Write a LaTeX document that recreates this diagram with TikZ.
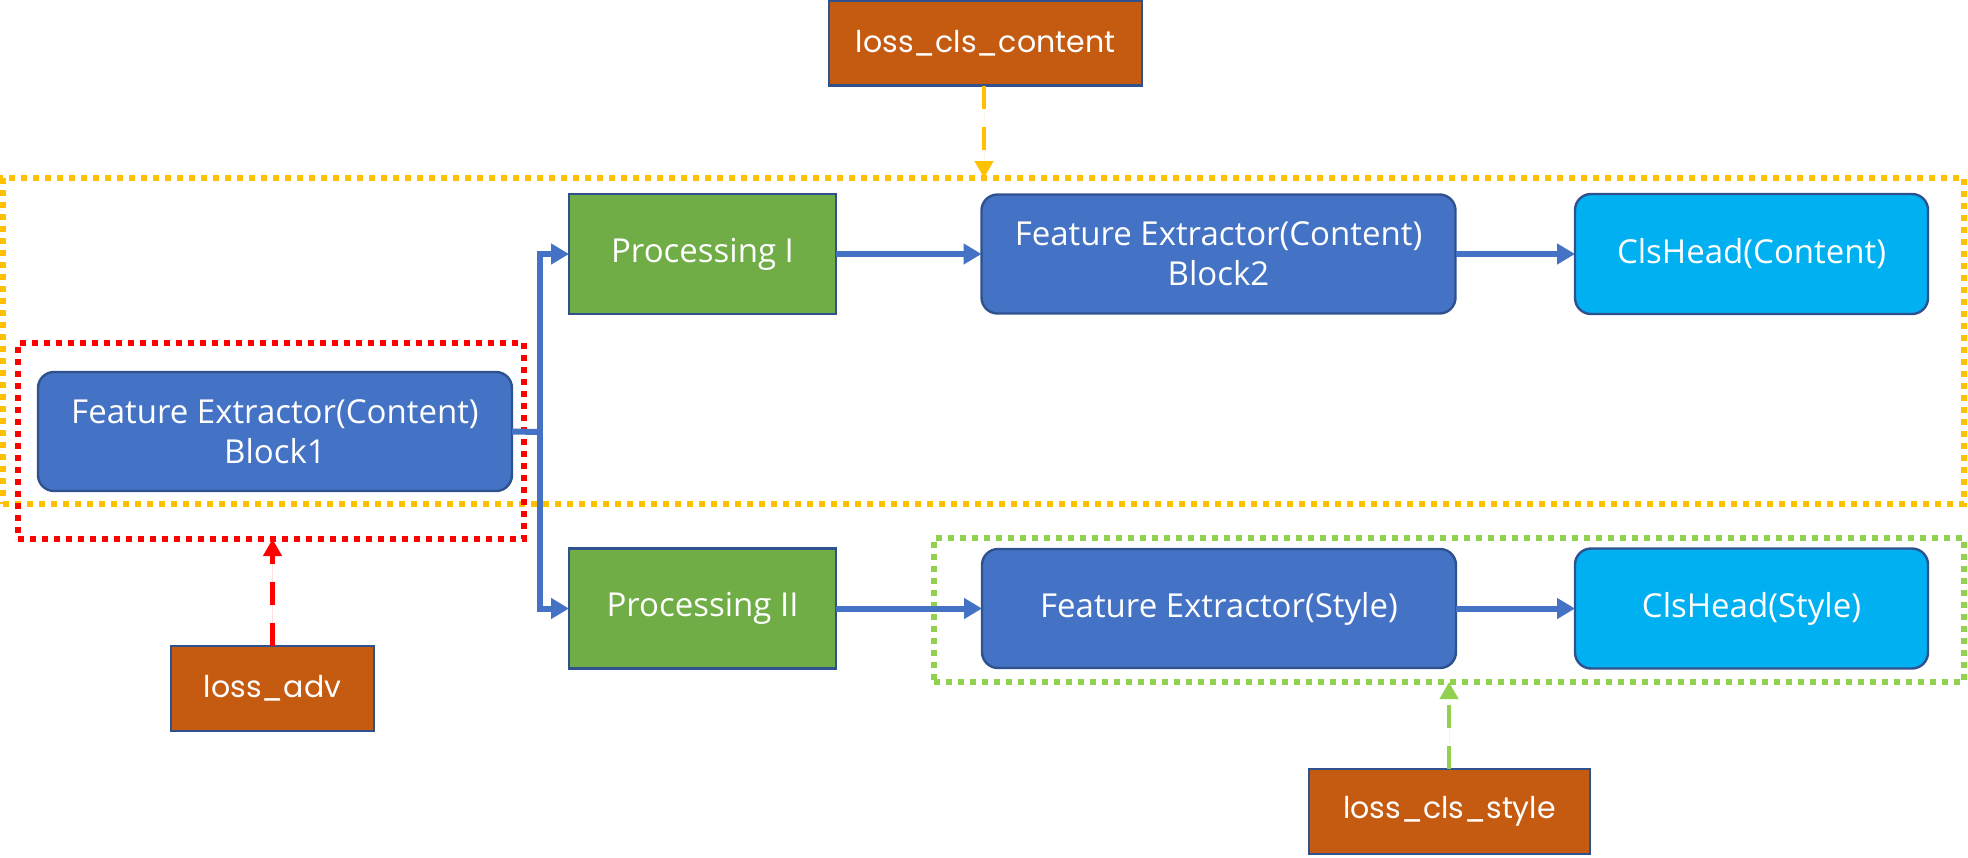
\documentclass[tikz,border=0pt]{standalone}
\usepackage{fontspec}
\setmainfont{Open Sans}
\newfontfamily\lossfont{Poppins}
\usetikzlibrary{arrows.meta,positioning}
\definecolor{procgreen}{HTML}{70AD47}
\definecolor{feblue}{HTML}{4472C4}
\definecolor{clscyan}{HTML}{00B0F0}
\definecolor{lossorange}{HTML}{C55A11}
\definecolor{edgeblue}{HTML}{2F528F}
\definecolor{dotyellow}{HTML}{FFC000}
\definecolor{dotred}{HTML}{FF0000}
\definecolor{dotgreen}{HTML}{92D050}
\tikzset{
  every node/.style={inner sep=0pt, outer sep=0pt},
  block/.style={draw=edgeblue, line width=1.2pt, text=white, align=center,
    font=\fontsize{16.5}{20}\selectfont},
  febox/.style={block, fill=feblue, rounded corners=8pt, minimum width=237pt, minimum height=59.5pt},
  procbox/.style={block, fill=procgreen, minimum width=133.5pt, minimum height=60pt},
  clsbox/.style={block, fill=clscyan, rounded corners=8pt, minimum width=176.5pt, minimum height=60pt},
  lossbox/.style={draw=edgeblue, line width=1.2pt, fill=lossorange, text=white,
    font=\lossfont\fontsize{15}{18}\selectfont, minimum height=42.5pt},
  dotframe/.style={line width=2.6pt, dash pattern=on 2.8pt off 3.2pt},
  flow/.style={draw=feblue, line width=3pt, -{Triangle[length=9pt,width=10pt]}},
  lossarrow/.style={line width=2.2pt, dash pattern=on 11.5pt off 9pt, -{Triangle[length=8.5pt,width=9pt]}},
}
\begin{document}
\begin{tikzpicture}[x=0.5pt,y=-0.5pt]
\useasboundingbox (0,0) rectangle (1968,857);
% frames
\node[dotframe, draw=dotyellow, minimum width=980.5pt, minimum height=163pt] (yframe) at (983.5,341) {};
\node[dotframe, draw=dotred, minimum width=253pt, minimum height=98pt] (rframe) at (271,441) {};
\node[dotframe, draw=dotgreen, minimum width=515pt, minimum height=72pt] (gframe) at (1449,610) {};
% blocks
\node[febox] (b1) at (275,431.5) {Feature Extractor(Content)\\Block1};
\node[procbox] (p1) at (702.5,254) {Processing I};
\node[procbox] (p2) at (702.5,608.5) {Processing II};
\node[febox] (b2) at (1218.5,254) {Feature Extractor(Content)\\Block2};
\node[febox] (fs) at (1219,608.5) {Feature Extractor(Style)};
\node[clsbox] (c1) at (1751.5,254) {ClsHead(Content)};
\node[clsbox] (c2) at (1751.5,608.5) {ClsHead(Style)};
% losses
\node[lossbox, minimum width=156.5pt] (lcc) at (985.5,43) {loss\_cls\_content};
\node[lossbox, minimum width=101.5pt] (ladv) at (272.5,688.5) {loss\_adv};
\node[lossbox, minimum width=140.5pt] (lcs) at (1449.5,811.5) {loss\_cls\_style};
% flow connectors
\coordinate (j) at (540,432);
\draw[draw=feblue, line width=3pt] (b1.east) -- (j);
\draw[flow] (j) |- (p1.west);
\draw[flow] (j) |- (p2.west);
\draw[flow] (p1) -- (b2);
\draw[flow] (p2) -- (fs);
\draw[flow] (b2) -- (c1);
\draw[flow] (fs) -- (c2);
% loss arrows
\draw[lossarrow, draw=dotyellow, fill=dotyellow] (lcc.south -| 984,0) -- (yframe.north -| 984,0);
\draw[lossarrow, draw=dotred, fill=dotred] (ladv.north) -- (ladv.north |- rframe.south);
\draw[lossarrow, draw=dotgreen, fill=dotgreen] (lcs.north -| 1449,0) -- (gframe.south -| 1449,0);
\end{tikzpicture}
\end{document}
